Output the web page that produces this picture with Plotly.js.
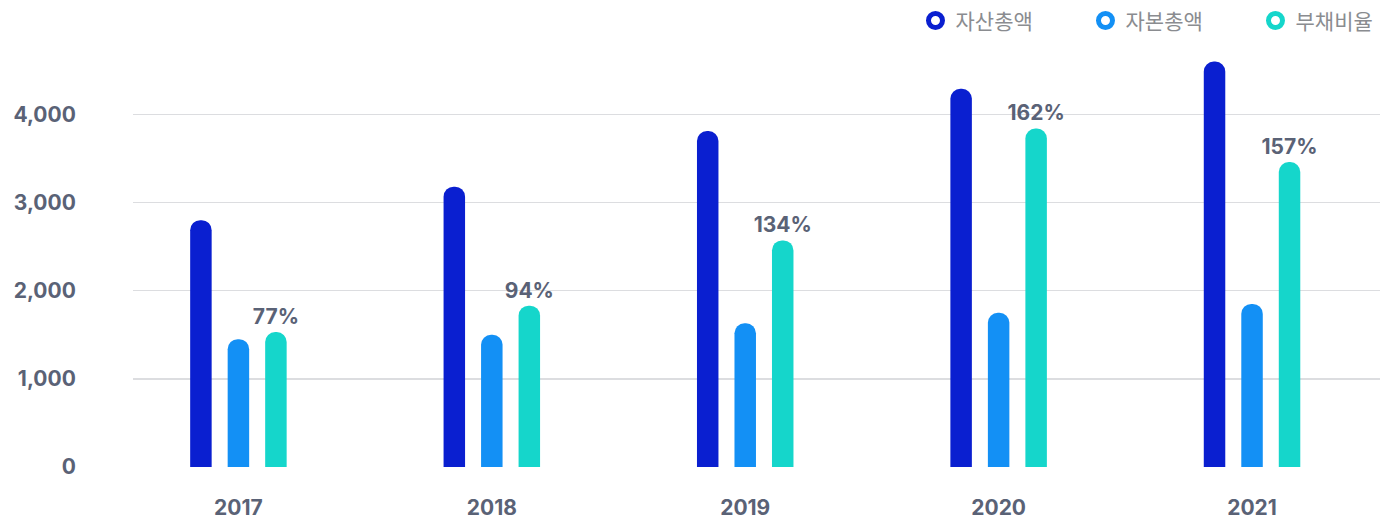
<!DOCTYPE html>
<html>
<head>
<meta charset="utf-8">
<script src="https://cdn.plot.ly/plotly-3.0.1.min.js"></script>
<style>
  html, body { margin: 0; padding: 0; background: #ffffff; }
  #chart { width: 1382px; height: 520px; }
</style>
</head>
<body>
<div id="chart"></div>
<script>
// ---- data ----
const years = [2017, 2018, 2019, 2020, 2021];
const yearLabels = ['2017', '2018', '2019', '2020', '2021'];
const totalAssets = [2800, 3180, 3810, 4290, 4600];      // 자산총액
const totalEquity = [1450, 1500, 1630, 1750, 1850];      // 자본총액
const debtRatioBar = [1530, 1830, 2570, 3840, 3460];     // 부채비율 (bar height on chart scale)
const debtRatioLabels = ['77%', '94%', '134%', '162%', '157%'];
const seriesNames = ['자산총액', '자본총액', '부채비율'];
const yTickVals = [0, 1000, 2000, 3000, 4000];
const yTickText = ['0', '1,000', '2,000', '3,000', '4,000'];

const colors = ['#0a1fd0', '#1390f5', '#15d6cb'];
const labelFont = { family: 'Inter, "Open Sans", sans-serif', size: 21, color: '#5a6276', weight: 700 };

const barCommon = { type: 'bar', x: years, showlegend: false, hoverinfo: 'skip', cliponaxis: false };

const traces = [
  Object.assign({}, barCommon, { name: seriesNames[0], y: totalAssets, marker: { color: colors[0], cornerradius: '50%' } }),
  Object.assign({}, barCommon, { name: seriesNames[1], y: totalEquity, marker: { color: colors[1], cornerradius: '50%' } }),
  Object.assign({}, barCommon, {
    name: seriesNames[2], y: debtRatioBar, marker: { color: colors[2], cornerradius: '50%' },
    text: debtRatioLabels, textposition: 'outside', textfont: labelFont, texttemplate: '%{text}',
    constraintext: 'none'
  })
];

// legend entries (open circles)
seriesNames.forEach((n, i) => {
  traces.push({
    type: 'scatter', mode: 'markers', name: n, x: [years[0]], y: [null],
    marker: { symbol: 'circle-open', size: 14, color: colors[i], line: { width: 5, color: colors[i] } },
    hoverinfo: 'skip'
  });
});

const layout = {
  width: 1382, height: 520,
  margin: { l: 133, r: 2, t: 50, b: 53, autoexpand: false },
  paper_bgcolor: '#ffffff', plot_bgcolor: '#ffffff',
  barmode: 'group', bargap: 0.556, bargroupgap: 0.427,
  font: { family: 'Inter, "Open Sans", sans-serif' },
  xaxis: {
    range: [2016.584, 2021.505],
    tickvals: years, ticktext: yearLabels,
    showgrid: false, zeroline: false, showline: false,
    ticks: 'outside', ticklen: 22, tickcolor: 'rgba(0,0,0,0)',
    tickfont: labelFont, fixedrange: true
  },
  yaxis: {
    range: [0, 4730],
    tickvals: yTickVals, ticktext: yTickText,
    showgrid: true, gridcolor: '#dcdde0', gridwidth: 1.5,
    zeroline: false, showline: false,
    ticks: 'outside', ticklen: 52, tickcolor: 'rgba(0,0,0,0)',
    tickfont: labelFont, fixedrange: true
  },
  showlegend: true,
  legend: {
    orientation: 'h', x: 0.6275, xanchor: 'left', y: 1.07, yanchor: 'middle',
    entrywidth: 125, entrywidthmode: 'pixels',
    font: { family: '"Noto Sans CJK KR", sans-serif', size: 21, color: '#8a8c90' },
    itemsizing: 'trace', bgcolor: 'rgba(0,0,0,0)'
  }
};

Plotly.newPlot('chart', traces, layout, { displayModeBar: false, staticPlot: true });
</script>
</body>
</html>
